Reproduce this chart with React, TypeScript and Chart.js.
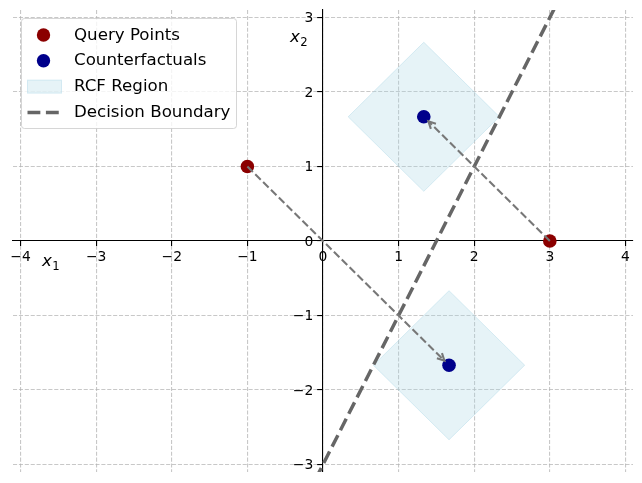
import { useEffect, useRef } from 'react';
import { Chart, registerables } from 'chart.js';

Chart.register(...registerables);

// ---- data ----
const queryX = [-1, 3];
const queryY = [1, 0];
const cfX = [1.333, 1.667];
const cfY = [1.667, -1.667];
const region1X = [2.333, 1.333, 0.333, 1.333, 2.333];
const region1Y = [1.667, 2.667, 1.667, 0.667, 1.667];
const region2X = [2.667, 1.667, 0.667, 1.667, 2.667];
const region2Y = [-1.667, -0.667, -1.667, -2.667, -1.667];
const boundaryX = [-0.1, 3.1];
const boundaryY = [-3.2, 3.2];
const arrow1X = [-1, 1.667];
const arrow1Y = [1, -1.667];
const arrow2X = [3, 1.333];
const arrow2Y = [0, 1.667];
const xTicks = [-4, -3, -2, -1, 0, 1, 2, 3, 4];
const yTicks = [-3, -2, -1, 0, 1, 2, 3];
const legendLabels = ['Query Points', 'Counterfactuals', 'RCF Region', 'Decision Boundary'];

const PT = 100 / 72;
const FONT = '"DejaVu Sans", "Liberation Sans", sans-serif';

const zip = (xs: number[], ys: number[]) => xs.map((x, i) => ({ x, y: ys[i] }));
const fmt = (v: number) => (v < 0 ? '\u2212' + Math.abs(v) : String(v));

const QUERY_COLOR = '#8B0000';
const CF_COLOR = '#00008B';
const REGION_FILL = 'rgba(173,216,230,0.3)';
const REGION_EDGE = 'rgba(173,216,230,0.45)';
const BOUNDARY_COLOR = '#666666';
const ARROW_COLOR = '#777777';

const arrowPlugin = {
  id: 'arrowHeads',
  afterDatasetsDraw(chart: any) {
    const ctx = chart.ctx;
    chart.data.datasets.forEach((ds: any, i: number) => {
      if (!ds.arrowHead) return;
      const meta = chart.getDatasetMeta(i);
      const p0 = meta.data[0];
      const p1 = meta.data[meta.data.length - 1];
      const dx = p1.x - p0.x;
      const dy = p1.y - p0.y;
      const len = Math.hypot(dx, dy);
      const ux = dx / len;
      const uy = dy / len;
      const shrink = 6.5;
      const tx = p1.x - ux * shrink;
      const ty = p1.y - uy * shrink;
      const hl = 7;
      const hw = 3.6;
      ctx.save();
      ctx.strokeStyle = ARROW_COLOR;
      ctx.lineWidth = 1.5 * PT;
      ctx.setLineDash([]);
      ctx.beginPath();
      ctx.moveTo(tx - ux * hl - uy * hw, ty - uy * hl + ux * hw);
      ctx.lineTo(tx, ty);
      ctx.lineTo(tx - ux * hl + uy * hw, ty - uy * hl - ux * hw);
      ctx.stroke();
      ctx.restore();
    });
  },
};

const decorPlugin = {
  id: 'decor',
  afterDraw(chart: any) {
    const ctx = chart.ctx;
    const area = chart.chartArea;
    const xs = chart.scales.x;
    const ys = chart.scales.y;
    const x0 = xs.getPixelForValue(0);
    const y0 = ys.getPixelForValue(0);

    // y tick labels, left of the centred y axis
    ctx.save();
    ctx.fillStyle = '#000';
    ctx.font = `${10 * PT}px ${FONT}`;
    ctx.textAlign = 'right';
    ctx.textBaseline = 'middle';
    ys.ticks.forEach((t: any) => {
      ctx.fillText(fmt(t.value), x0 - 7 * PT, ys.getPixelForValue(t.value) + 1);
    });
    ctx.restore();

    // axis labels (x_1, x_2)
    const drawSub = (left: number, base: number, main: string, sub: string) => {
      ctx.save();
      ctx.fillStyle = '#000';
      ctx.textBaseline = 'alphabetic';
      ctx.textAlign = 'left';
      ctx.font = `oblique ${12 * PT}px ${FONT}`;
      ctx.fillText(main, left, base);
      const w = ctx.measureText(main).width;
      ctx.font = `${12 * PT * 0.7}px ${FONT}`;
      ctx.fillText(sub, left + w + 0.5, base + 3.5);
      ctx.restore();
    };
    drawSub(area.left + 29, y0 + 25, 'x', '1');
    drawSub(x0 - 33, area.top + 32, 'x', '2');

    // legend
    const bx = area.left + 8.5;
    const by = area.top + 8.5;
    const bw = 215;
    const bh = 110;
    ctx.save();
    ctx.beginPath();
    if (ctx.roundRect) ctx.roundRect(bx, by, bw, bh, 3);
    else ctx.rect(bx, by, bw, bh);
    ctx.fillStyle = 'rgba(255,255,255,0.8)';
    ctx.fill();
    ctx.strokeStyle = 'rgba(204,204,204,0.8)';
    ctx.lineWidth = 1;
    ctx.stroke();

    const rowY = (k: number) => by + 16.5 + k * 25.8;
    const symX = bx + 22;
    const textX = bx + 52.5;
    ctx.font = `${12 * PT}px ${FONT}`;
    ctx.textBaseline = 'alphabetic';
    ctx.textAlign = 'left';
    legendLabels.forEach((label, k) => {
      const cy = rowY(k);
      if (k === 0 || k === 1) {
        ctx.beginPath();
        ctx.fillStyle = k === 0 ? QUERY_COLOR : CF_COLOR;
        ctx.arc(symX, cy, 6.7, 0, Math.PI * 2);
        ctx.fill();
      } else if (k === 2) {
        ctx.fillStyle = REGION_FILL;
        ctx.fillRect(symX - 16, cy - 6.5, 34, 13);
        ctx.strokeStyle = REGION_EDGE;
        ctx.lineWidth = 1;
        ctx.strokeRect(symX - 16, cy - 6.5, 34, 13);
      } else {
        ctx.beginPath();
        ctx.strokeStyle = BOUNDARY_COLOR;
        ctx.lineWidth = 2.5 * PT;
        ctx.setLineDash([3.7 * 2.5 * PT, 1.6 * 2.5 * PT]);
        ctx.moveTo(symX - 16, cy);
        ctx.lineTo(symX + 17, cy);
        ctx.stroke();
        ctx.setLineDash([]);
      }
      ctx.fillStyle = '#000';
      ctx.fillText(label, textX, cy + 4.6);
    });
    ctx.restore();
  },
};

export default function App() {
  const ref = useRef<HTMLCanvasElement | null>(null);

  useEffect(() => {
    document.body.style.margin = '0';
    const canvas = ref.current;
    if (!canvas) return;

    const gridCommon = {
      color: 'rgba(176,176,176,0.7)',
      lineWidth: 0.8 * PT,
      drawTicks: true,
      tickLength: 3.5 * PT,
      tickColor: '#000',
      tickWidth: 0.8 * PT,
    };
    const borderCommon = {
      display: true,
      color: '#000',
      width: 0.8 * PT,
      dash: [3.7 * 0.8 * PT, 1.6 * 0.8 * PT],
    };

    const chart = new Chart(canvas, {
      type: 'scatter',
      data: {
        datasets: [
          {
            label: 'Arrow 1',
            data: zip(arrow1X, arrow1Y),
            showLine: true,
            borderColor: ARROW_COLOR,
            borderWidth: 1.5 * PT,
            borderDash: [3.7 * 1.5 * PT, 1.6 * 1.5 * PT],
            pointRadius: 0,
            fill: false,
            order: 1,
            arrowHead: true,
          } as any,
          {
            label: 'Arrow 2',
            data: zip(arrow2X, arrow2Y),
            showLine: true,
            borderColor: ARROW_COLOR,
            borderWidth: 1.5 * PT,
            borderDash: [3.7 * 1.5 * PT, 1.6 * 1.5 * PT],
            pointRadius: 0,
            fill: false,
            order: 1,
            arrowHead: true,
          } as any,
          {
            label: legendLabels[0],
            data: zip(queryX, queryY),
            backgroundColor: QUERY_COLOR,
            borderWidth: 0,
            pointRadius: 6.8,
            order: 2,
          },
          {
            label: legendLabels[1],
            data: zip(cfX, cfY),
            backgroundColor: CF_COLOR,
            borderWidth: 0,
            pointRadius: 6.8,
            order: 0,
          },
          {
            label: legendLabels[2],
            data: zip(region1X, region1Y),
            showLine: true,
            fill: 'shape',
            backgroundColor: REGION_FILL,
            borderColor: REGION_EDGE,
            borderWidth: 1,
            pointRadius: 0,
            tension: 0,
            order: 4,
          } as any,
          {
            label: '_region2',
            data: zip(region2X, region2Y),
            showLine: true,
            fill: 'shape',
            backgroundColor: REGION_FILL,
            borderColor: REGION_EDGE,
            borderWidth: 1,
            pointRadius: 0,
            tension: 0,
            order: 4,
          } as any,
          {
            label: legendLabels[3],
            data: zip(boundaryX, boundaryY),
            showLine: true,
            borderColor: BOUNDARY_COLOR,
            borderWidth: 2.5 * PT,
            borderDash: [3.7 * 2.5 * PT, 1.6 * 2.5 * PT],
            pointRadius: 0,
            fill: false,
            order: 3,
          } as any,
        ],
      },
      options: {
        responsive: false,
        animation: false,
        layout: { padding: { left: 13, right: 9, top: 10, bottom: 11 } },
        plugins: {
          legend: { display: false },
          tooltip: { enabled: false },
        },
        scales: {
          x: {
            type: 'linear',
            position: { y: 0 } as any,
            min: -4.1,
            max: 4.1,
            afterBuildTicks: (scale: any) => {
              scale.ticks = xTicks.map((v) => ({ value: v }));
            },
            grid: gridCommon as any,
            border: borderCommon as any,
            ticks: {
              color: '#000',
              font: { family: FONT, size: 10 * PT },
              padding: 3.5 * PT - 2,
              maxRotation: 0,
              autoSkip: false,
              callback: (v: any) => fmt(Number(v)),
            },
          },
          y: {
            type: 'linear',
            position: { x: 0 } as any,
            min: -3.1,
            max: 3.1,
            afterBuildTicks: (scale: any) => {
              scale.ticks = yTicks.map((v) => ({ value: v }));
            },
            grid: gridCommon as any,
            border: borderCommon as any,
            ticks: {
              display: false,
              autoSkip: false,
            },
          },
        },
      },
      plugins: [arrowPlugin, decorPlugin],
    });

    return () => chart.destroy();
  }, []);

  return (
    <div style={{ width: 642, height: 483 }}>
      <canvas ref={ref} width={642} height={483} style={{ display: 'block' }} />
    </div>
  );
}
